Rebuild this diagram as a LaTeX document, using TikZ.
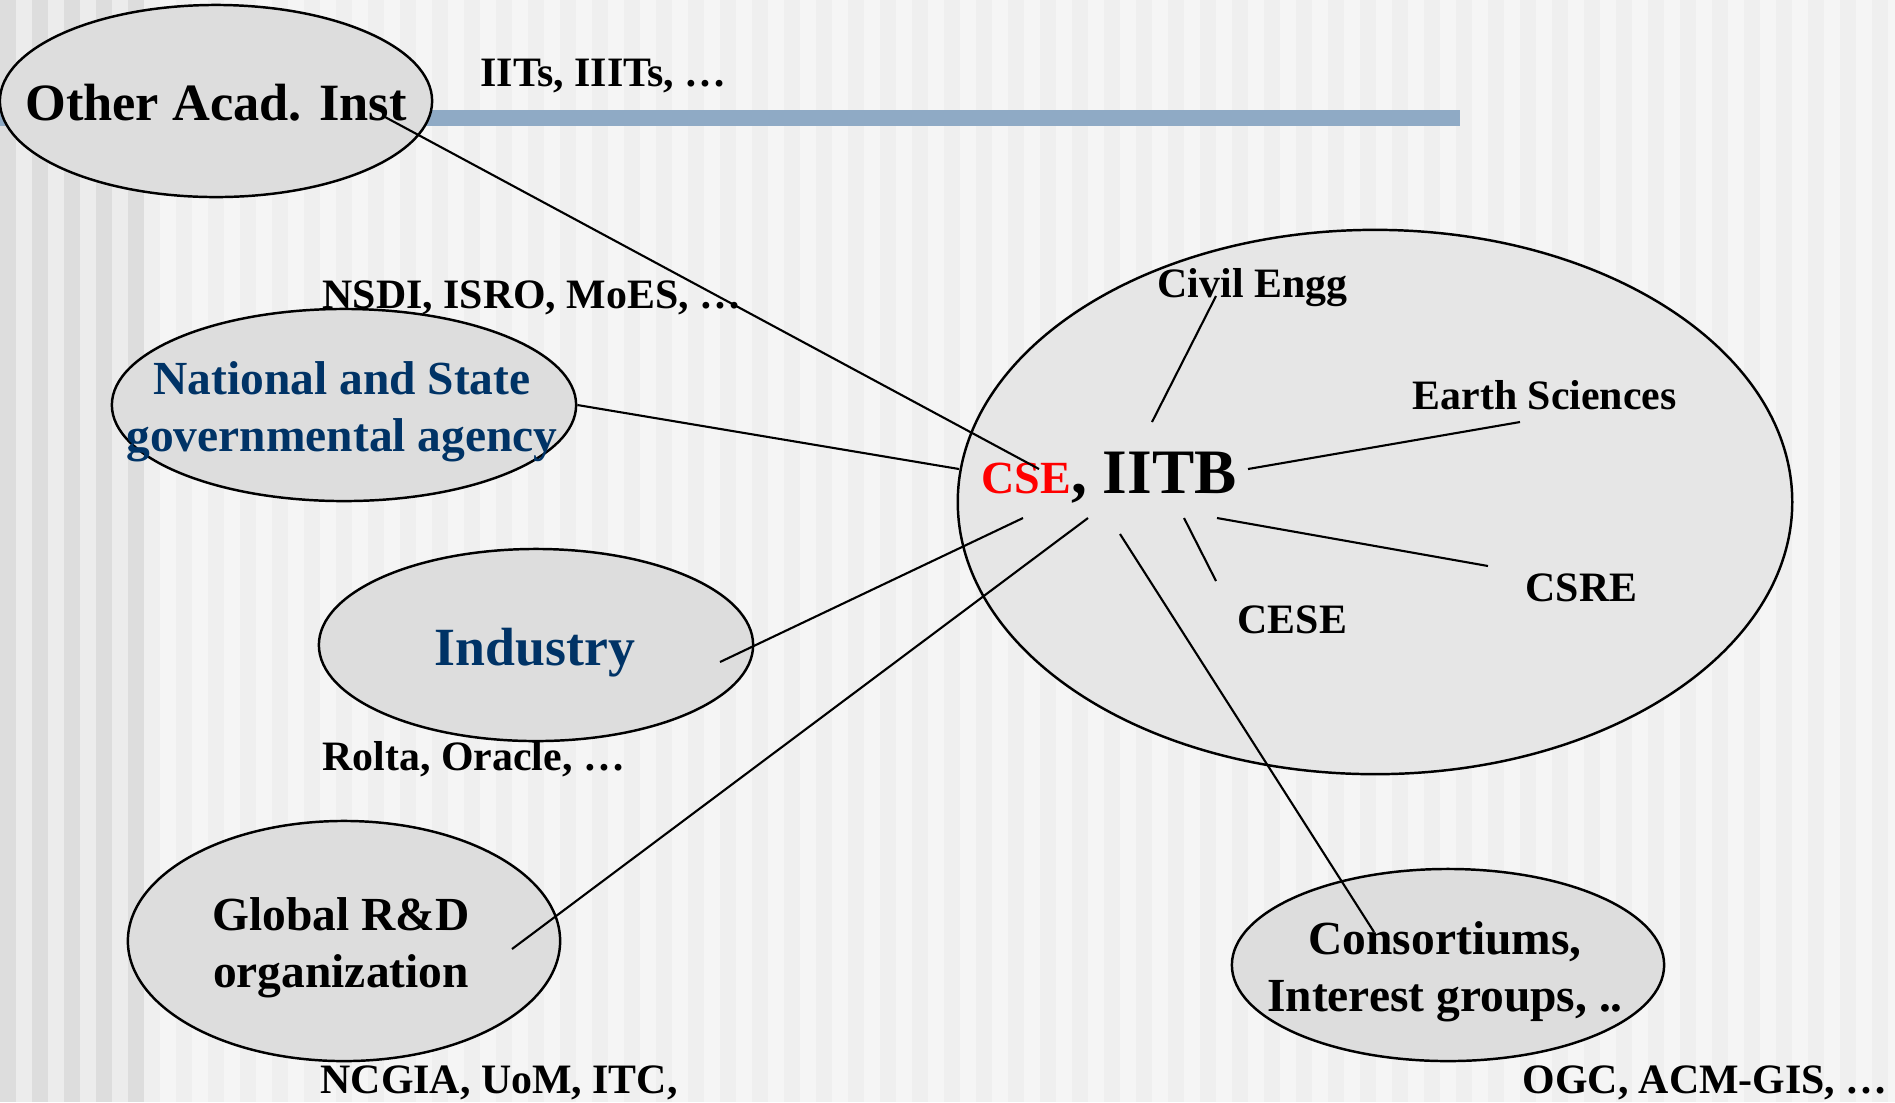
\documentclass[tikz,border=0pt]{standalone}
\usepackage{fontspec}
\setmainfont{Liberation Serif}
\usetikzlibrary{shapes.geometric}
\definecolor{navy}{RGB}{0,51,102}
\definecolor{barblue}{RGB}{143,170,197}
\definecolor{blobfill}{RGB}{221,221,221}
\definecolor{ringfill}{RGB}{230,230,230}
\definecolor{stripedark}{RGB}{221,221,221}
\definecolor{stripemid}{RGB}{236,236,236}
\definecolor{stripelight}{RGB}{239,239,239}
\definecolor{paper}{RGB}{245,245,245}

\begin{document}
\begin{tikzpicture}[x=0.01cm, y=-0.01cm,
    blob/.style={draw, ellipse, fill=blobfill, line width=0.7pt, inner sep=0pt},
    blobtext/.style={inner sep=0pt, align=center, font=\bfseries\fontsize{13.5}{16.2}\selectfont},
    tag/.style={anchor=base west, inner sep=0pt, font=\bfseries\fontsize{11.9}{14}\selectfont},
    link/.style={line width=0.6pt}]
    \useasboundingbox (0,0) rectangle (1895,1102);

    % Draw the striped background
    \fill[stripemid] (0,0) rectangle (144,1102);
    \fill[paper] (144,0) rectangle (1895,1102);
    \foreach \x in {0,32,...,128}
        \fill[stripedark] (\x,0) rectangle +(16,1102);
    \foreach \x in {144,176,...,1880}
        \fill[stripelight] (\x,0) rectangle +(16,1102);

    % Draw the title bar
    \fill[barblue] (0,110) rectangle (1460,126);

    % Draw the partner ellipses
    \node[blob, minimum width=4.32cm, minimum height=1.92cm] (acad) at (216,101) {};
    \node[blob, minimum width=4.64cm, minimum height=1.92cm] (natl) at (344,405) {};
    \node[blob, minimum width=4.34cm, minimum height=1.92cm] (industry) at (536,645) {};
    \node[blob, minimum width=4.32cm, minimum height=2.40cm] (global) at (344,941) {};
    \node[blob, minimum width=4.32cm, minimum height=1.92cm] (consort) at (1448,965) {};

    % Draw the big ellipse for the institute
    \node[draw, ellipse, fill=ringfill, line width=0.7pt, inner sep=0pt,
          minimum width=8.34cm, minimum height=5.44cm] (campus) at (1375,502) {};

    % Texts of the ellipses
    \node[blobtext, font=\bfseries\fontsize{14.9}{18}\selectfont] (acad-txt) at (216,103) {Other Acad. Inst};
    \node[blobtext, text=navy] (natl-txt) at (342,412) {National and State\\governmental agency};
    \node[blobtext, text=navy, font=\bfseries\fontsize{15.3}{18}\selectfont] (industry-txt) at (535,653) {Industry};
    \node[blobtext] (global-txt) at (341,948) {Global R\&D\\organization};
    \node[blobtext] (consort-txt) at (1445,972) {Consortiums,\\Interest groups, ..};

    % The hub
    \node[anchor=base west, inner sep=0pt, font=\bfseries] (hub) at (981,493)
        {{\fontsize{13.1}{16}\selectfont\color{red}CSE}{\fontsize{18}{21}\selectfont, IITB}};

    % Draw the example labels
    \node[tag] (iits) at (480,86) {IITs, IIITs, …};
    \node[tag] (nsdi) at (322,308) {NSDI, ISRO, MoES, …};
    \node[tag] (rolta) at (322,770) {Rolta, Oracle, …};
    \node[tag] (ncgia) at (320,1093) {NCGIA, UoM, ITC,};
    \node[tag] (ogc) at (1522,1093) {OGC, ACM-GIS, …};

    % Departments inside the institute
    \node[tag] (civil) at (1157,297) {Civil Engg};
    \node[tag] (earth) at (1412,409) {Earth Sciences};
    \node[tag] (csre) at (1525,601) {CSRE};
    \node[tag] (cese) at (1237,633) {CESE};

    % Line ends
    \coordinate (acad-in) at (385,117);
    \coordinate (ind-in) at (720,662);
    \coordinate (glob-in) at (512,949);
    \coordinate (cons-in) at (1374,932);
    \coordinate (hub-w) at (959,469);
    \coordinate (hub-nw) at (1039,469);
    \coordinate (hub-sw) at (1023,518);
    \coordinate (hub-s) at (1088,518);
    \coordinate (hub-se) at (1120,534);
    \coordinate (hub-n) at (1152,422);
    \coordinate (hub-e) at (1248,469);
    \coordinate (hub-sse) at (1184,518);
    \coordinate (hub-ese) at (1217,518);
    \coordinate (civil-foot) at (1216,296);
    \coordinate (earth-foot) at (1520,422);
    \coordinate (csre-tip) at (1488,566);
    \coordinate (cese-tip) at (1216,581);

    % Draw the connectors to the partners
    \draw[link] (acad-in) -- (hub-nw);
    \draw[link] (natl.east) -- (hub-w);
    \draw[link] (ind-in) -- (hub-sw);
    \draw[link] (glob-in) -- (hub-s);
    \draw[link] (cons-in) -- (hub-se);

    % Draw the connectors to the departments
    \draw[link] (hub-n) -- (civil-foot);
    \draw[link] (hub-e) -- (earth-foot);
    \draw[link] (hub-ese) -- (csre-tip);
    \draw[link] (hub-sse) -- (cese-tip);
\end{tikzpicture}
\end{document}
